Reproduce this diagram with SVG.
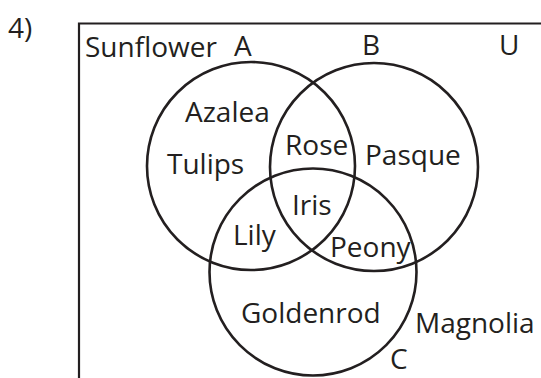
<svg xmlns="http://www.w3.org/2000/svg" width="541" height="378" viewBox="0 0 541 378">
<style>
text{font-family:"Open Sans","Noto Sans","Liberation Sans",sans-serif;font-size:28px;fill:#231f20}
.set{fill:none;stroke:#231f20;stroke-width:2.6}
.frame{fill:none;stroke:#231f20;stroke-width:2.2}
</style>
<rect width="541" height="378" fill="#fff"/>
<text x="8" y="38">4)</text>
<g id="universe">
<polyline class="frame" points="541,23.5 79,23.5 79,378"/>
<text x="85" y="57">Sunflower</text>
<text x="499" y="55">U</text>
<text x="415" y="333">Magnolia</text>
</g>
<g id="setA">
<circle class="set" cx="251" cy="166" r="104"/>
<text x="234" y="56">A</text>
<text x="185" y="122">Azalea</text>
<text x="167" y="174">Tulips</text>
</g>
<g id="setB">
<circle class="set" cx="374" cy="167" r="104"/>
<text x="362" y="55">B</text>
<text x="365" y="165">Pasque</text>
</g>
<g id="setC">
<circle class="set" cx="313" cy="272" r="103.5"/>
<text x="390" y="369">C</text>
<text x="241" y="323">Goldenrod</text>
</g>
<g id="intersections">
<text x="285" y="155">Rose</text>
<text x="292" y="215">Iris</text>
<text x="233" y="245">Lily</text>
<text x="330" y="257">Peony</text>
</g>
</svg>
